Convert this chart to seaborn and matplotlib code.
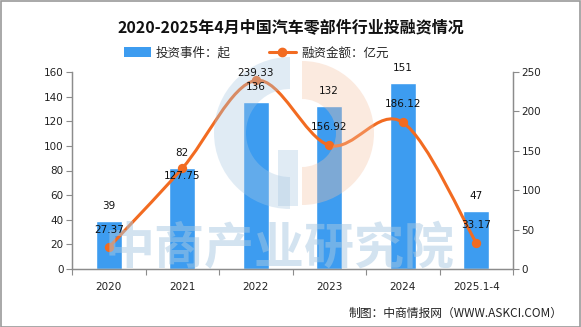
import numpy as np
import matplotlib
matplotlib.use("Agg")
import matplotlib.pyplot as plt
import seaborn as sns
from matplotlib.path import Path
from matplotlib.patches import PathPatch, Wedge, Rectangle, Patch
from matplotlib.lines import Line2D
from matplotlib.text import Annotation

categories = ["2020", "2021", "2022", "2023", "2024", "2025.1-4"]
events = [39, 82, 136, 132, 151, 47]
amounts = [27.37, 127.75, 239.33, 156.92, 186.12, 33.17]
event_labels = ["39", "82", "136", "132", "151", "47"]
amount_labels = ["27.37", "127.75", "239.33", "156.92", "186.12", "33.17"]

title = "2020-2025年4月中国汽车零部件行业投融资情况"
bar_name = "投资事件：起"
line_name = "融资金额：亿元"
source = "制图：中商情报网（WWW.ASKCI.COM）"
watermark = "中商产业研究院"

sns.set_theme(style="white")
plt.rcParams['font.family'] = ['Noto Sans CJK SC', 'DejaVu Sans']

BLUE = "#3d9cf0"
ORANGE = "#f26b21"
GRAY = "#8c8c8c"

W, H = 581, 327
fig = plt.figure(figsize=(W / 100, H / 100), dpi=100)
fig.patch.set_facecolor("white")

ax = fig.add_axes([72 / W, 1 - 269 / H, (513 - 72) / W, (269 - 72) / H])
sns.barplot(x=categories, y=events, ax=ax, color=BLUE, saturation=1, width=0.355, zorder=2)
ax.set_xlim(-0.5, len(categories) - 0.5)
ax.set_ylim(0, 160)
ax.set_yticks(np.arange(0, 161, 20))
ax.set_xlabel("")
ax.set_ylabel("")

ax2 = ax.twinx()
ax2.set_ylim(0, 250)
ax2.set_yticks(np.arange(0, 251, 50))

# smooth line through the data points (Catmull-Rom drawn as cubic Bezier)
xs = np.arange(len(amounts), dtype=float)
ys = np.array(amounts, dtype=float)
verts = [(xs[0], ys[0])]
codes = [Path.MOVETO]
n = len(xs)
t = 0.5
for i in range(n - 1):
    p0 = (xs[max(i - 1, 0)], ys[max(i - 1, 0)])
    p1 = (xs[i], ys[i])
    p2 = (xs[i + 1], ys[i + 1])
    p3 = (xs[min(i + 2, n - 1)], ys[min(i + 2, n - 1)])
    c1 = (p1[0] + (p2[0] - p0[0]) * t / 3, p1[1] + (p2[1] - p0[1]) * t / 3)
    c2 = (p2[0] - (p3[0] - p1[0]) * t / 3, p2[1] - (p3[1] - p1[1]) * t / 3)
    verts += [c1, c2, p2]
    codes += [Path.CURVE4] * 3
ax2.add_patch(PathPatch(Path(verts, codes), facecolor="none", edgecolor=ORANGE,
                        lw=2.2, zorder=3, capstyle="round"))
sns.scatterplot(x=xs, y=ys, ax=ax2, color=ORANGE, s=45, edgecolor=ORANGE,
                linewidth=0, zorder=4, legend=False)

# axes styling
for a in (ax, ax2):
    a.spines["top"].set_visible(False)
    for s in ("left", "right", "bottom"):
        a.spines[s].set_color(GRAY)
        a.spines[s].set_linewidth(0.9)
ax.tick_params(axis="y", direction="out", length=4, width=0.8, color=GRAY,
               labelsize=7.5, labelcolor="#222222", pad=2, left=True)
ax2.tick_params(axis="y", direction="out", length=4, width=0.8, color=GRAY,
                labelsize=7.5, labelcolor="#222222", pad=2, right=True)
ax.set_xticks(np.arange(len(categories)))
ax.set_xticklabels(categories)
ax.tick_params(axis="x", which="major", length=0, labelsize=7.5,
               labelcolor="#222222", pad=9)
ax.set_xticks(np.arange(-0.5, len(categories), 1.0), minor=True)
ax.tick_params(axis="x", which="minor", direction="out", length=4, width=0.8,
               color=GRAY, bottom=True)
for lab in ax.get_yticklabels() + ax2.get_yticklabels() + ax.get_xticklabels():
    lab.set_family("DejaVu Sans")

# watermark logo + text (over the bars, under the value labels)
wm = fig.add_axes([0, 0, 1, 1], zorder=10)
wm.set_xlim(0, W)
wm.set_ylim(H, 0)
wm.axis("off")
wm.patch.set_alpha(0)
cx, cy, r = 290, 133, 76
wm.add_patch(Wedge((cx, cy), r, 90, 270, width=32, facecolor="#a8c8e2", alpha=0.35, lw=0))
wm.add_patch(Rectangle((cx - 12, 150), 20, 56, facecolor="#a8c8e2", alpha=0.35, lw=0))
wm.add_patch(Wedge((cx + 12, cy), r - 4, -90, 90, width=38, facecolor="#f5c3a5", alpha=0.35, lw=0))
wm.text(280, 250, watermark, ha="center", va="center", fontsize=36, fontweight="bold",
        color="#a8c8e2", alpha=0.5)

# value labels on top of everything
for i, (v, lab) in enumerate(zip(events, event_labels)):
    ann = Annotation(lab, xy=(i, v), xycoords=ax.transData, xytext=(0, 15),
                     textcoords="offset pixels", ha="center", va="center",
                     fontsize=7.5, color="#111111", family="DejaVu Sans")
    ann.set_zorder(20)
    fig.add_artist(ann)
amount_offsets = [17, -8, 7, 18, 18, 18]
for i, (v, lab) in enumerate(zip(amounts, amount_labels)):
    ann = Annotation(lab, xy=(i, v), xycoords=ax2.transData, xytext=(0, amount_offsets[i]),
                     textcoords="offset pixels", ha="center", va="center",
                     fontsize=7.5, color="#111111", family="DejaVu Sans")
    ann.set_zorder(20)
    fig.add_artist(ann)

# title, legend, source
fig.text(0.5, 1 - 27 / H, title, ha="center", va="center", fontsize=11.5,
         fontweight="bold", color="#111111")
handles = [Patch(facecolor=BLUE, edgecolor="none"),
           Line2D([0], [0], color=ORANGE, lw=2.2, marker="o", markersize=6)]
fig.legend(handles, [bar_name, line_name], loc="center", ncol=2,
           bbox_to_anchor=(256 / W, 1 - 53 / H), frameon=False, fontsize=9,
           handlelength=2.2, handleheight=0.9, columnspacing=3.0, handletextpad=0.4)
fig.text(563 / W, 1 - 313 / H, source, ha="right", va="center", fontsize=8.5,
         color="#222222")

fig.add_artist(Rectangle((0.5 / W, 0.5 / H), 1 - 1.5 / W, 1 - 1.5 / H,
                         transform=fig.transFigure, fill=False, edgecolor="#9a9a9a", lw=1.2))

fig.savefig("out.png", dpi=100)
